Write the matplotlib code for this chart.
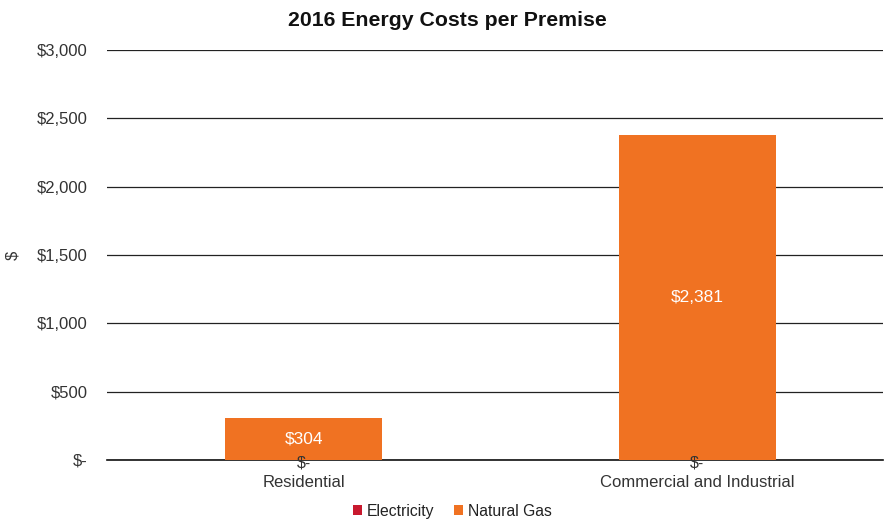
import matplotlib.pyplot as plt
from matplotlib.ticker import FuncFormatter

plt.rcParams['font.family'] = ['Liberation Sans', 'DejaVu Sans']

categories = ['Residential', 'Commercial and Industrial']
electricity = [0, 0]
natural_gas = [304, 2381]

ELEC_COLOR = '#C8192E'
GAS_COLOR = '#F07222'


def money(v, pos=None):
    if v == 0:
        return '$-'
    return '${:,.0f}'.format(v)


fig = plt.figure(figsize=(8.84, 5.22), dpi=100)
ax = fig.add_axes([0.121, 0.119, 0.878, 0.785])

x = range(len(categories))
width = 0.4
ax.bar(x, electricity, width, color=ELEC_COLOR, label='Electricity', zorder=3)
ax.bar(x, natural_gas, width, bottom=electricity, color=GAS_COLOR,
       label='Natural Gas', zorder=3)

# electricity labels sit on the baseline, nudged a little below it
for i, v in enumerate(electricity):
    ax.annotate(money(v), (i, v / 2), xytext=(0, -2.5), textcoords='offset points',
                ha='center', va='center', fontsize=11.5, color='#333333', zorder=4)
for i, v in enumerate(natural_gas):
    ax.text(i, electricity[i] + v / 2, money(v), ha='center', va='center',
            fontsize=12.5, color='white', zorder=4)

ax.set_ylim(0, 3000)
ax.set_yticks(range(0, 3001, 500))
ax.yaxis.set_major_formatter(FuncFormatter(money))
ax.set_xlim(-0.5, 1.472)
ax.set_xticks(list(x))
ax.set_xticklabels(categories)
ax.grid(axis='y', color='#222222', linewidth=0.9, zorder=0)
ax.tick_params(axis='both', length=0, labelsize=12, colors='#333333')
ax.tick_params(axis='y', pad=14)
ax.tick_params(axis='x', pad=11)
for s in ['top', 'right', 'left']:
    ax.spines[s].set_visible(False)
ax.spines['bottom'].set_color('#111111')
ax.spines['bottom'].set_linewidth(1.2)

ax.set_ylabel('$', fontsize=12, color='#333333')
ax.yaxis.set_label_coords(-0.112, 0.5)
fig.suptitle('2016 Energy Costs per Premise', x=0.506, y=0.979, fontsize=15.3,
             fontweight='bold', color='#111111')

ax.legend(loc='upper center', bbox_to_anchor=(0.445, -0.072), ncol=2, frameon=False,
          fontsize=11.3, handlelength=0.55, handleheight=0.55, handletextpad=0.3,
          columnspacing=1.3, labelcolor='#222222')

fig.savefig('out.png', dpi=100)
